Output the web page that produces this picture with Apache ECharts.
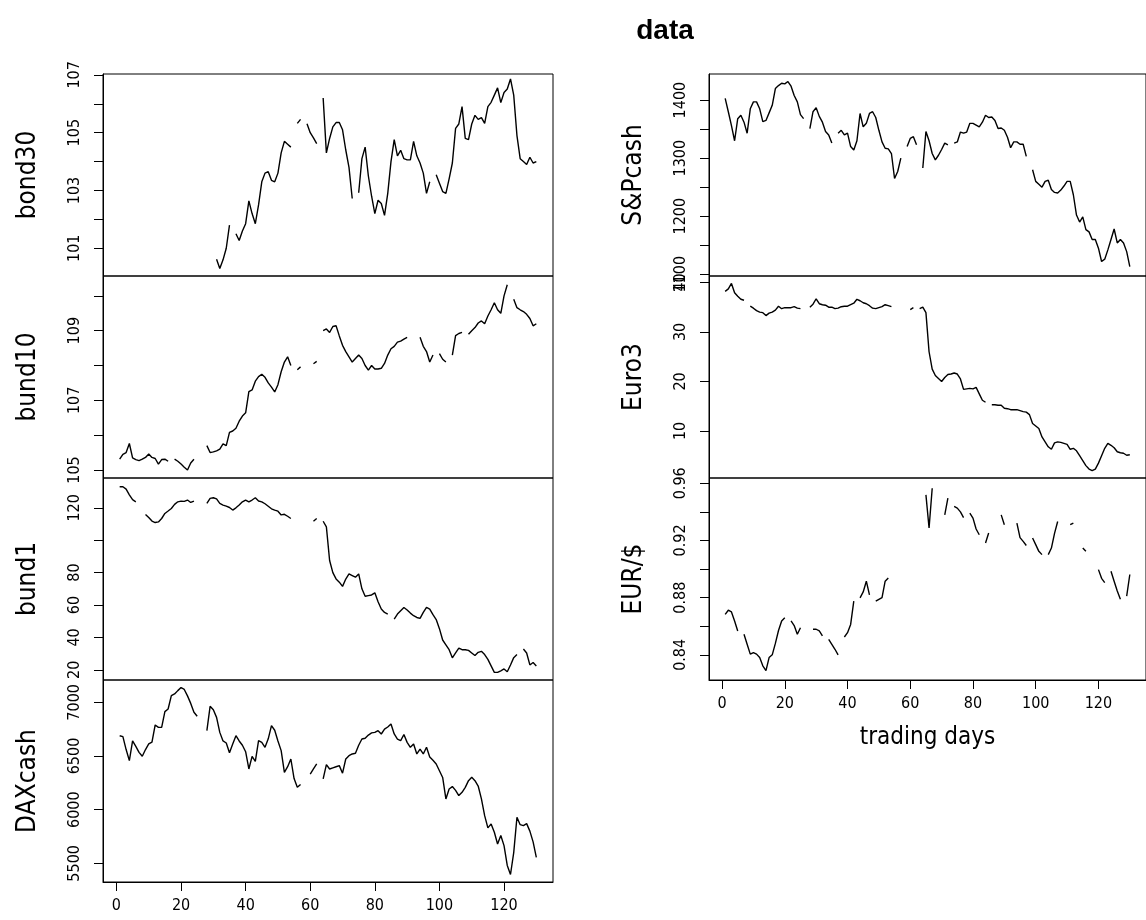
<!DOCTYPE html>
<html>
<head>
<meta charset="utf-8">
<title>data</title>
<script src="https://cdn.jsdelivr.net/npm/echarts@6/dist/echarts.min.js"></script>
<style>
  html, body { margin: 0; padding: 0; background: #fff; }
  #chart { width: 1146px; height: 920px; }
</style>
</head>
<body>
<div id="chart"></div>
<script>
// trading days 1..130, null = no quote that day
const bond30 = [
  null, null, null, null, null, null, null, null, null, null,
  null, null, null, null, null, null, null, null, null, null,
  null, null, null, null, null, null, null, null, null, null,
  100.62, 100.3, 100.6, 101.0, 101.8, null, 101.5, 101.27, 101.6, 101.85,
  102.64, 102.2, 101.85, 102.5, 103.3, 103.6, 103.65, 103.35, 103.3, 103.6,
  104.3, 104.7, 104.6, 104.5, null, 105.32, 105.46, null, 105.31, 105.0,
  104.82, 104.62, null, 106.2, 104.3, 104.8, 105.2, 105.35, 105.35, 105.1,
  104.4, 103.8, 102.72, null, 102.92, 104.1, 104.5, 103.5, 102.8, 102.2,
  102.66, 102.55, 102.14, 102.9, 104.0, 104.76, 104.2, 104.39, 104.1, 104.06,
  104.06, 104.7, 104.2, 103.95, 103.6, 102.9, 103.3, null, 103.54, 103.25,
  102.96, 102.9, 103.4, 103.95, 105.15, 105.3, 105.9, 104.8, 104.76, 105.3,
  105.6, 105.46, 105.52, 105.32, 105.9, 106.05, 106.3, 106.55, 106.04, 106.39,
  106.51, 106.86, 106.3, 104.9, 104.1, 104.0, 103.9, 104.15, 103.95, 104.0
]
const bund10 = [
  105.31, 105.45, 105.5, 105.76, 105.35, 105.3, 105.27, 105.31, 105.36, 105.46,
  105.36, 105.33, 105.17, 105.3, 105.31, 105.25, null, 105.31, 105.25, 105.17,
  105.08, 105.0, 105.2, 105.31, null, null, null, 105.7, 105.5, 105.52,
  105.55, 105.6, 105.75, 105.7, 106.08, 106.12, 106.2, 106.4, 106.55, 106.64,
  107.25, 107.3, 107.55, 107.68, 107.75, 107.66, 107.5, 107.38, 107.24, 107.45,
  107.82, 108.1, 108.25, 108.0, null, 107.88, 107.96, null, null, null,
  108.05, 108.12, null, 109.0, 109.05, 108.95, 109.12, 109.14, 108.85, 108.58,
  108.4, 108.25, 108.1, 108.2, 108.3, 108.2, 108.0, 107.87, 108.0, 107.9,
  107.9, 107.92, 108.06, 108.3, 108.48, 108.55, 108.67, 108.7, 108.76, 108.81,
  null, null, null, 108.81, 108.55, 108.4, 108.1, 108.3, null, 108.34,
  108.18, 108.1, null, 108.3, 108.86, 108.92, 108.95, null, 108.9, 109.0,
  109.09, 109.22, 109.28, 109.2, 109.42, 109.6, 109.8, 109.6, 109.5, 110.0,
  110.32, null, 109.9, 109.66, 109.6, 109.55, 109.47, 109.35, 109.14, 109.2
]
const bund1 = [
  133, 133, 131.5, 128, 125, 123.7, null, null, 115.9, 114,
  111.8, 110.9, 111.3, 113.4, 116.5, 118, 119.6, 122.1, 123.7, 124.1,
  124, 124.8, 123.3, 124.1, null, null, null, 122.7, 125.8, 126.2,
  125.5, 122.7, 121.7, 121.0, 120.2, 118.6, 120, 121.7, 123.7, 124.8,
  123.7, 124.8, 126.2, 124.2, 123.7, 122.5, 121, 119.4, 118.6, 117.9,
  115.6, 116.0, 114.8, 113.4, null, null, null, null, null, null,
  111.7, 113.4, null, 111.7, 108.2, 87.5, 80, 76.1, 74.1, 71.5,
  76, 79.2, 78.2, 77.2, 79.2, 70, 65.4, 65.8, 66.2, 67.5,
  62, 57.5, 55.4, 54.4, null, 51.3, 54.4, 56.5, 58.5, 56.9,
  55, 53.4, 52.3, 51.7, 55.4, 58.5, 57.5, 54, 51, 45.4,
  38.4, 35.4, 32.4, 27.4, 30.4, 33.4, 32.4, 32.4, 32, 30.4,
  28.8, 30.8, 31.4, 29.4, 26.4, 22.4, 18.4, 18.4, 19.4, 20.5,
  18.8, 23, 27.5, 29.4, null, 32.8, 30.4, 23, 24.5, 22.4
]
const daxCash = [
  6689, 6680, 6560, 6457, 6640, 6590, 6534, 6497, 6560, 6612,
  6630, 6789, 6767, 6767, 6913, 6938, 7062, 7078, 7109, 7138,
  7120, 7060, 6990, 6907, 6870, null, null, 6736, 6963, 6930,
  6860, 6720, 6640, 6621, 6530, 6612, 6689, 6640, 6600, 6540,
  6379, 6497, 6450, 6643, 6627, 6581, 6660, 6783, 6740, 6640,
  6550, 6348, 6400, 6472, 6290, 6208, 6235, null, null, 6332,
  6380, 6426, null, 6286, 6420, 6379, 6390, 6400, 6410, 6340,
  6472, 6503, 6519, 6525, 6600, 6658, 6665, 6695, 6715, 6720,
  6736, 6705, 6750, 6770, 6798, 6705, 6658, 6643, 6700, 6627,
  6581, 6612, 6519, 6565, 6519, 6581, 6490, 6460, 6426, 6363,
  6300, 6100, 6193, 6215, 6180, 6131, 6162, 6208, 6270, 6301,
  6270, 6220, 6100, 5944, 5830, 5867, 5789, 5680, 5760, 5665,
  5480, 5396, 5600, 5929, 5860, 5851, 5870, 5800, 5700, 5556
]
const spCash = [
  1403, 1380, 1356, 1330, 1368, 1374, 1362, 1343, 1385, 1397,
  1397, 1385, 1363, 1365, 1378, 1391, 1420, 1425, 1429, 1428,
  1432, 1424, 1408, 1397, 1375, 1368, null, 1351, 1380, 1387,
  1372, 1362, 1346, 1340, 1326, null, 1343, 1348, 1340, 1343,
  1320, 1314, 1330, 1377, 1354, 1360, 1377, 1380, 1370, 1348,
  1328, 1317, 1316, 1308, 1265, 1277, 1300, null, 1320, 1334,
  1337, 1323, null, 1283, 1346, 1330, 1308, 1297, 1305, 1315,
  1326, 1323, null, 1326, 1328, 1345, 1343, 1345, 1360, 1360,
  1357, 1354, 1362, 1374, 1370, 1371, 1365, 1351, 1352, 1348,
  1336, 1318, 1328, 1328, 1324, 1324, 1303, null, 1280, 1260,
  1255, 1250, 1260, 1262, 1246, 1241, 1240, 1245, 1252, 1260,
  1260, 1237, 1202, 1190, 1199, 1177, 1173, 1160, 1160, 1145,
  1122, 1126, 1142, 1160, 1178, 1154, 1160, 1154, 1139, 1113
]
const euro3 = [
  38.2, 38.7, 39.8, 37.9, 37.2, 36.6, 36.4, null, 35.2, 34.8,
  34.3, 34.0, 33.9, 33.3, 33.8, 34.0, 34.4, 35.2, 34.7, 34.9,
  34.9, 34.9, 35.1, 34.8, 34.7, null, null, 35.0, 35.6, 36.7,
  35.7, 35.5, 35.4, 35.0, 35.0, 34.7, 34.8, 35.1, 35.2, 35.2,
  35.5, 35.8, 36.6, 36.3, 35.9, 35.7, 35.3, 34.8, 34.7, 34.9,
  35.1, 35.5, 35.3, 35.1, null, null, null, null, null, 34.5,
  34.9, null, 34.7, 35.0, 33.9, 26, 22.5, 21.2, 20.6, 20.0,
  20.8, 21.4, 21.5, 21.7, 21.5, 20.5, 18.4, 18.5, 18.6, 18.5,
  18.8, 17.5, 16.2, 15.8, null, 15.3, 15.3, 15.2, 15.2, 14.6,
  14.5, 14.3, 14.3, 14.3, 14.1, 13.9, 13.8, 13.3, 11.5, 11.0,
  10.5, 8.8, 7.8, 6.8, 6.3, 7.6, 7.8, 7.7, 7.5, 7.3,
  6.3, 6.5, 6.0, 5.0, 4.0, 3.0, 2.3, 2.0, 2.3, 3.5,
  5.0, 6.5, 7.5, 7.1, 6.6, 5.8, 5.6, 5.5, 5.1, 5.2
]
const eurUsd = [
  0.8683, 0.8712, 0.870, 0.8637, 0.8567, null, 0.8544, 0.8474, 0.8405, 0.8416,
  0.8405, 0.8381, 0.8323, 0.8289, 0.8381, 0.840, 0.848, 0.857, 0.8637, 0.866,
  null, 0.8637, 0.8605, 0.8544, 0.859, null, null, null, 0.8579, 0.8579,
  0.8567, 0.8532, null, 0.8509, 0.8474, 0.8439, 0.840, null, 0.8525, 0.8555,
  0.8613, 0.8776, null, 0.8799, 0.884, 0.8915, 0.882, null, 0.8776, 0.8788,
  0.880, 0.8915, 0.8938, null, null, null, null, null, null, null,
  null, null, null, null, 0.9519, 0.9287, 0.9565, null, null, null,
  0.9379, 0.9496, null, 0.9438, 0.9426, 0.940, 0.936, null, 0.9391, 0.9356,
  0.928, 0.924, null, 0.9182, 0.9252, null, null, null, 0.9379, 0.931,
  null, null, null, 0.9321, 0.922, 0.9194, 0.9165, null, 0.9217, 0.9171,
  0.9124, 0.9101, null, 0.9101, 0.9147, 0.925, 0.9333, null, null, null,
  0.931, 0.9321, null, null, 0.9147, 0.9124, null, null, null, 0.8996,
  0.8935, 0.8905, null, 0.8985, 0.8915, 0.8846, 0.8788, null, 0.8811, 0.8962
]

// axis ticks (all) and the ones that carry a label
const xTicks = [0, 20, 40, 60, 80, 100, 120]
const bond30Ticks = [101, 102, 103, 104, 105, 106, 107]
const bond30Labels = [101, 103, 105, 107]
const bund10Ticks = [105, 106, 107, 108, 109, 110]
const bund10Labels = [105, 107, 109]
const bund1Ticks = [20, 40, 60, 80, 100, 120]
const bund1Labels = [20, 40, 60, 80, 120]
const daxTicks = [5500, 6000, 6500, 7000]
const spTicks = [1100, 1150, 1200, 1250, 1300, 1350, 1400]
const spLabels = [1100, 1200, 1300, 1400]
const euro3Ticks = [10, 20, 30, 40]
const eurUsdTicks = [0.84, 0.86, 0.88, 0.90, 0.92, 0.94, 0.96]
const eurUsdLabels = [0.84, 0.88, 0.92, 0.96]

const chart = echarts.init(document.getElementById('chart'))

const narrow = "'Liberation Sans Narrow', 'DejaVu Sans Condensed', 'Liberation Sans', Arial, sans-serif"

// col 0 = left column, col 1 = right column
const panels = [
  { name: 'bond30', data: bond30, min: 100.04, max: 107.03, ticks: bond30Ticks, labels: bond30Labels, col: 0, row: 0 },
  { name: 'bund10', data: bund10, min: 104.77, max: 110.57, ticks: bund10Ticks, labels: bund10Labels, col: 0, row: 1 },
  { name: 'bund1', data: bund1, min: 13.7, max: 138.4, ticks: bund1Ticks, labels: bund1Labels, col: 0, row: 2 },
  { name: 'DAXcash', data: daxCash, min: 5326, max: 7208, ticks: daxTicks, labels: daxTicks, col: 0, row: 3, bottom: true },
  { name: 'S&Pcash', data: spCash, min: 1097, max: 1445, ticks: spTicks, labels: spLabels, col: 1, row: 0 },
  { name: 'Euro3', data: euro3, min: 0.5, max: 41.3, ticks: euro3Ticks, labels: euro3Ticks, col: 1, row: 1 },
  { name: 'EUR/$', data: eurUsd, min: 0.8224, max: 0.9637, ticks: eurUsdTicks, labels: eurUsdLabels, col: 1, row: 2, bottom: true, xName: 'trading days' }
]

const colLeft = [103, 709]
const panelW = 450
const panelH = 202
const top0 = 74

const grid = panels.map(p => ({
  left: colLeft[p.col],
  top: top0 + p.row * panelH,
  width: panelW,
  height: panelH,
  show: true,
  borderColor: '#000',
  borderWidth: 1,
  backgroundColor: 'transparent'
}))

const plain = v => String(v)

const xAxis = panels.map((p, i) => ({
  type: 'value',
  gridIndex: i,
  position: 'bottom',
  min: -4.16,
  max: 135.16,
  show: !!p.bottom,
  name: p.xName || '',
  nameLocation: 'middle',
  nameGap: 46,
  nameTextStyle: { fontSize: 24, color: '#000', fontFamily: narrow },
  axisLine: { show: true, onZero: false, lineStyle: { color: '#000', width: 1 } },
  splitLine: { show: false },
  axisTick: { show: true, inside: false, length: 9, customValues: xTicks, lineStyle: { color: '#000', width: 1 } },
  axisLabel: { show: true, margin: 16, fontSize: 16, color: '#000', fontFamily: narrow, customValues: xTicks, formatter: plain }
}))

const yAxis = panels.map((p, i) => ({
  type: 'value',
  gridIndex: i,
  position: 'left',
  min: p.min,
  max: p.max,
  name: p.name,
  nameLocation: 'middle',
  nameRotate: 90,
  nameGap: 62,
  nameTextStyle: { fontSize: 26, color: '#000', fontFamily: narrow },
  axisLine: { show: true, onZero: false, lineStyle: { color: '#000', width: 1 } },
  splitLine: { show: false },
  axisTick: { show: true, inside: false, length: 9, customValues: p.ticks, lineStyle: { color: '#000', width: 1 } },
  axisLabel: { show: true, rotate: 90, margin: 20, fontSize: 16, color: '#000', fontFamily: narrow, customValues: p.labels, formatter: plain }
}))

const series = panels.map((p, i) => ({
  type: 'line',
  name: p.name,
  xAxisIndex: i,
  yAxisIndex: i,
  data: p.data.map((v, k) => [k + 1, v === null ? '-' : v]),
  showSymbol: false,
  symbol: 'none',
  connectNulls: false,
  lineStyle: { color: '#000', width: 1.4 }
}))

chart.setOption({
  animation: false,
  backgroundColor: '#fff',
  title: {
    text: 'data',
    left: 660,
    top: 12,
    textAlign: 'center',
    textStyle: { fontSize: 28, fontWeight: 'bold', color: '#000', fontFamily: 'Liberation Sans, Arial, sans-serif' }
  },
  grid,
  xAxis,
  yAxis,
  series
})
</script>
</body>
</html>
